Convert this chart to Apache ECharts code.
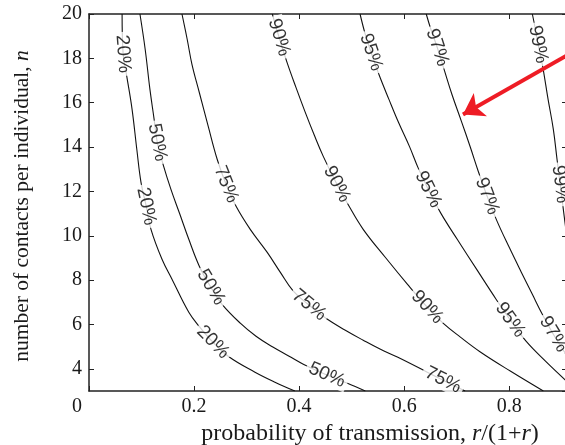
<!DOCTYPE html>
<html><head><meta charset="utf-8">
<script src="https://cdn.jsdelivr.net/npm/echarts@6/dist/echarts.min.js"></script>
<style>html,body{margin:0;padding:0;background:#fff}#c{width:565px;height:445px}</style>
</head><body><div id="c"></div>
<script>
// ---- data (x = r/(1+r), y = n) ----
const levels = ['20%','50%','75%','90%','95%','97%','99%'];
const c20 = [[0.063,20],[0.065,18.2],[0.072,17.18],[0.082,15.70],[0.091,13.90],[0.099,12.41],[0.109,11.33],[0.118,10.29],[0.139,8.94],[0.158,8.04],[0.190,6.55],[0.211,5.88],[0.236,5.20],[0.267,4.53],[0.316,3.85],[0.354,3.40],[0.392,3.0]];
const c50 = [[0.097,20],[0.107,18.40],[0.116,16.60],[0.124,15.25],[0.130,14.21],[0.141,13.22],[0.156,12.09],[0.173,10.97],[0.190,9.84],[0.210,8.63],[0.232,7.68],[0.253,6.92],[0.288,6.06],[0.318,5.47],[0.350,4.98],[0.381,4.57],[0.408,4.21],[0.453,3.72],[0.491,3.36],[0.526,3.0]];
const c75 = [[0.177,20],[0.187,18.85],[0.196,17.73],[0.210,16.46],[0.227,14.93],[0.244,13.45],[0.261,12.32],[0.280,11.33],[0.307,10.29],[0.339,9.26],[0.364,8.36],[0.389,7.50],[0.419,6.87],[0.451,6.28],[0.488,5.74],[0.522,5.29],[0.554,4.89],[0.587,4.53],[0.644,3.85],[0.674,3.49],[0.716,3.0]];
const c90 = [[0.349,20],[0.362,18.94],[0.377,17.82],[0.394,16.69],[0.411,15.61],[0.429,14.53],[0.446,13.58],[0.472,12.32],[0.493,11.42],[0.522,10.29],[0.564,9.03],[0.606,7.82],[0.644,6.78],[0.674,6.06],[0.707,5.43],[0.745,4.76],[0.802,3.90],[0.865,3.0]];
const c95 = [[0.516,20],[0.526,19.08],[0.537,18.27],[0.552,17.27],[0.571,16.15],[0.590,15.07],[0.610,14.03],[0.627,13.04],[0.646,12.09],[0.670,11.01],[0.701,9.84],[0.739,8.45],[0.775,7.14],[0.802,6.20],[0.832,5.25],[0.869,4.35],[0.909,3.45]];
const c97 = [[0.642,20],[0.651,19.30],[0.663,18.49],[0.676,17.50],[0.691,16.37],[0.709,15.16],[0.726,13.99],[0.741,12.91],[0.758,11.78],[0.777,10.65],[0.800,9.48],[0.823,8.36],[0.844,7.36],[0.863,6.46],[0.884,5.56],[0.909,4.62]];
const c99 = [[0.844,20],[0.850,19.30],[0.855,18.63],[0.863,17.73],[0.874,16.15],[0.884,14.80],[0.891,13.45],[0.897,12.32],[0.903,11.19],[0.909,10.07]];
const l20 = [[0.065,18.2],[0.109,11.33],[0.236,5.20]];
const l50 = [[0.130,14.21],[0.232,7.68],[0.453,3.72]];
const l75 = [[0.261,12.32],[0.419,6.87],[0.674,3.49]];
const l90 = [[0.362,18.94],[0.472,12.32],[0.644,6.78]];
const l95 = [[0.537,18.27],[0.646,12.09],[0.802,6.20]];
const l97 = [[0.663,18.49],[0.758,11.78],[0.884,5.56]];
const l99 = [[0.855,18.63],[0.897,12.32]];
const arrowFrom = [0.95, 18.67];
const arrowTo = [0.712, 15.47];
const xTicks = [0, 0.2, 0.4, 0.6, 0.8];
const yTicks = [4, 6, 8, 10, 12, 14, 16, 18, 20];

const contours = [c20, c50, c75, c90, c95, c97, c99];
const labelPts = [l20, l50, l75, l90, l95, l97, l99];

const serif = 'Liberation Serif';
const ink = '#1a1a1a';
const chart = echarts.init(document.getElementById('c'), null, {renderer: 'canvas'});

function isTick(v, list) { return list.some(t => Math.abs(t - v) < 1e-6); }

function axisBase() {
  return {
    axisLine: {show: true, onZero: false, lineStyle: {color: '#222', width: 1.5}},
    axisTick: {show: true, inside: true, length: 5, lineStyle: {color: '#222', width: 1}},
    splitLine: {show: false}
  };
}

function buildLabelData(rotFn) {
  const out = [];
  labelPts.forEach((pts, ci) => {
    pts.forEach(p => {
      out.push({name: levels[ci], value: p, label: {rotate: rotFn ? rotFn(ci, p) : 0}});
    });
  });
  return out;
}

const option = {
  animation: false,
  grid: {left: 89, top: 14, width: 478, height: 377, containLabel: false, outerBoundsMode: 'none'},
  xAxis: [
    Object.assign(axisBase(), {
      type: 'value', min: 0, max: 0.91, interval: 0.2, position: 'bottom',
      axisLabel: {
        margin: 6, color: ink, fontFamily: serif, fontSize: 20, showMaxLabel: false,
        formatter: v => v === 0 ? '{z|0}' : (isTick(v, xTicks) ? String(+v.toFixed(1)) : ''),
        rich: {z: {padding: [0, 24, 0, 0], color: ink, fontFamily: serif, fontSize: 20}}
      },
      name: '{t|probability of transmission, }{i|r}{t|/(1+}{i|r}{t|)}',
      nameLocation: 'middle', nameGap: 28,
      nameTextStyle: {
        padding: [0, 0, 0, 84],
        rich: {
          t: {fontFamily: serif, fontSize: 24, color: ink},
          i: {fontFamily: serif, fontSize: 24, fontStyle: 'italic', color: ink}
        }
      }
    }),
    Object.assign(axisBase(), {
      type: 'value', min: 0, max: 0.91, interval: 0.2, position: 'top',
      axisLabel: {show: false}
    })
  ],
  yAxis: [
    Object.assign(axisBase(), {
      type: 'value', min: 3, max: 20, splitNumber: 8, position: 'left',
      axisLabel: {
        margin: 7, color: ink, fontFamily: serif, fontSize: 20, showMinLabel: false,
        formatter: v => isTick(v, yTicks) ? String(v) : ''
      },
      name: '{t|number of contacts per individual, }{i|n}',
      nameLocation: 'middle', nameGap: 56, nameRotate: 90,
      nameTextStyle: {
        padding: [0, 7, 0, 0],
        rich: {
          t: {fontFamily: serif, fontSize: 21.5, color: ink},
          i: {fontFamily: serif, fontSize: 21.5, fontStyle: 'italic', color: ink}
        }
      }
    }),
    Object.assign(axisBase(), {
      type: 'value', min: 3, max: 20, splitNumber: 8, position: 'right',
      axisLabel: {show: false}
    })
  ],
  series: [
    ...contours.map((d, i) => ({
      type: 'line', name: levels[i], data: d, showSymbol: false, smooth: 0.4,
      clip: true, silent: true,
      lineStyle: {color: '#111', width: 1.1}
    })),
    {
      id: 'labels', type: 'scatter', data: buildLabelData(null), symbolSize: 1,
      itemStyle: {color: 'rgba(0,0,0,0)'}, silent: true, clip: false, z: 5,
      label: {
        show: true, position: 'inside', formatter: '{b}',
        fontFamily: 'Liberation Sans', fontSize: 19, color: '#000',
        backgroundColor: '#fff', padding: [0, 3]
      }
    },
    {
      type: 'lines', coordinateSystem: 'cartesian2d', silent: true, z: 6,
      symbol: ['none', 'arrow'], symbolSize: 20,
      lineStyle: {color: '#ee1c25', width: 4, opacity: 1},
      data: [{coords: [arrowFrom, arrowTo]}]
    }
  ]
};
chart.setOption(option);

function rotFor(ci, p) {
  const data = contours[ci];
  const P = d => chart.convertToPixel({xAxisIndex: 0, yAxisIndex: 0}, d);
  const pp = P(p);
  let best = 0, bd = Infinity;
  data.forEach((d, i) => {
    const q = P(d);
    const dd = (q[0] - pp[0]) ** 2 + (q[1] - pp[1]) ** 2;
    if (dd < bd) { bd = dd; best = i; }
  });
  const a = P(data[Math.max(0, best - 1)]);
  const b = P(data[Math.min(data.length - 1, best + 1)]);
  let ang = Math.atan2(-(b[1] - a[1]), b[0] - a[0]) * 180 / Math.PI;
  if (ang > 90) ang -= 180;
  if (ang < -90) ang += 180;
  return ang;
}
chart.setOption({series: [{id: 'labels', data: buildLabelData(rotFor)}]});
</script></body></html>
